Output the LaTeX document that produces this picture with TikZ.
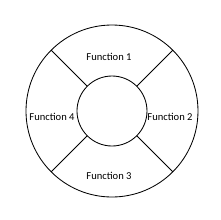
\documentclass[tikz,border=0pt]{standalone}
\usepackage{fontspec}
\setmainfont{Carlito}
\usetikzlibrary{calc}

\begin{document}
\begin{tikzpicture}[
    x=0.025cm, y=-0.025cm,
    ring/.style={draw, circle, line width=0.6pt},
    label/.style={font=\fontsize{7.5}{9}\selectfont, inner sep=1pt},
    spoke/.style={line width=0.6pt}
]
\useasboundingbox (0,0) rectangle (220,220);
\node[ring, minimum size=172*0.025cm, inner sep=0pt] (outer) at (112,111) {};
\node[ring, minimum size=70*0.025cm, inner sep=0pt] (inner) at (112,111) {};

\node[label] (f1) at (109,57) {Function 1};
\node[label] (f2) at (170,117) {Function 2};
\node[label] (f3) at (109,176) {Function 3};
\node[label] (f4) at (52,117) {Function 4};

\foreach \a in {45,135,225,315}
    \draw[spoke] (inner.\a) -- (outer.\a);
\end{tikzpicture}
\end{document}
